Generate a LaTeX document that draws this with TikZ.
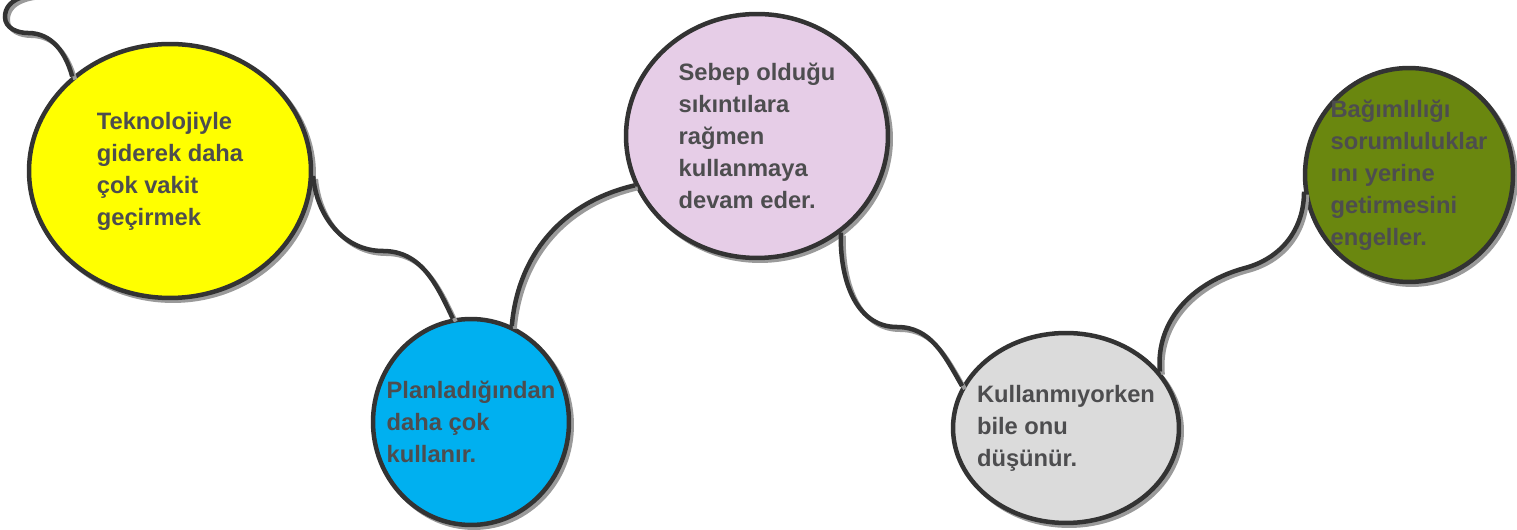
\documentclass[tikz,border=0pt]{standalone}
\usepackage{fontspec}
\setmainfont{Liberation Sans}
\usepackage{tikz}
\usetikzlibrary{shapes.geometric, shadows}
\usepackage{xcolor}
\definecolor{edgegray}{HTML}{333333}
\definecolor{shadowgray}{HTML}{9A9A9A}
\definecolor{textgray}{HTML}{4D4D4F}
\definecolor{sunyellow}{HTML}{FFFF00}
\definecolor{skyblue}{HTML}{00B0F0}
\definecolor{lilac}{HTML}{E6CDE7}
\definecolor{lightgray}{HTML}{DBDBDB}
\definecolor{olive}{HTML}{6A870F}

\begin{document}
\begin{tikzpicture}[x=0.02cm, y=0.02cm,
    bubble/.style={ellipse, draw=edgegray, line width=0.09cm, inner xsep=-0.35cm, inner ysep=0pt,
        align=left, text=textgray, font=\fontsize{13.5}{18.2}\selectfont\bfseries,
        copy shadow={shadow xshift=0.06cm, shadow yshift=-0.06cm, draw=shadowgray, fill=shadowgray, line width=0.08cm}},
    link/.style={draw=edgegray, line width=0.09cm,
        preaction={draw=shadowgray, line width=0.08cm, transform canvas={shift={(3,-3)}}}}]
    \useasboundingbox (0,0) rectangle (1517,530);
    \node[bubble, fill=sunyellow, minimum width=5.64cm, minimum height=5.08cm] (tek) at (170,359)
        {Teknolojiyle\\giderek daha\\çok vakit\\geçirmek};
    \node[bubble, fill=skyblue, minimum width=3.92cm, minimum height=4.12cm] (plan) at (471,108)
        {Planladığından\\daha çok\\kullanır.};
    \node[bubble, fill=lilac, minimum width=5.24cm, minimum height=4.88cm] (sebep) at (757,394)
        {Sebep olduğu\\sıkıntılara\\rağmen\\kullanmaya\\devam eder.};
    \node[bubble, fill=lightgray, minimum width=4.52cm, minimum height=3.8cm] (kull) at (1066,102)
        {Kullanmıyorken\\bile onu\\düşünür.};
    \node[bubble, fill=olive, minimum width=4.16cm, minimum height=4.28cm] (bag) at (1409,355)
        {Bağımlılığı\\sorumluluklar\\ını yerine\\getirmesini\\engeller.};
    \coordinate (curltop) at (45,536);
    \draw[link] (tek.136) to[out=105,in=0] (28,497) to[out=180,in=-90] (5,513) to[out=90,in=180] (curltop);
    \draw[link] (tek.-2) to[out=-85,in=180] (383,279) to[out=0,in=115] (plan.100);
    \draw[link] (plan.67) to[out=85,in=193] (sebep.-158);
    \draw[link] (sebep.-49) to[out=-92,in=180] (897,203) to[out=0,in=120] (kull.158);
    \draw[link] (kull.31) to[out=95,in=195] (1245,262) to[out=15,in=-90] (bag.189);
\end{tikzpicture}
\end{document}
